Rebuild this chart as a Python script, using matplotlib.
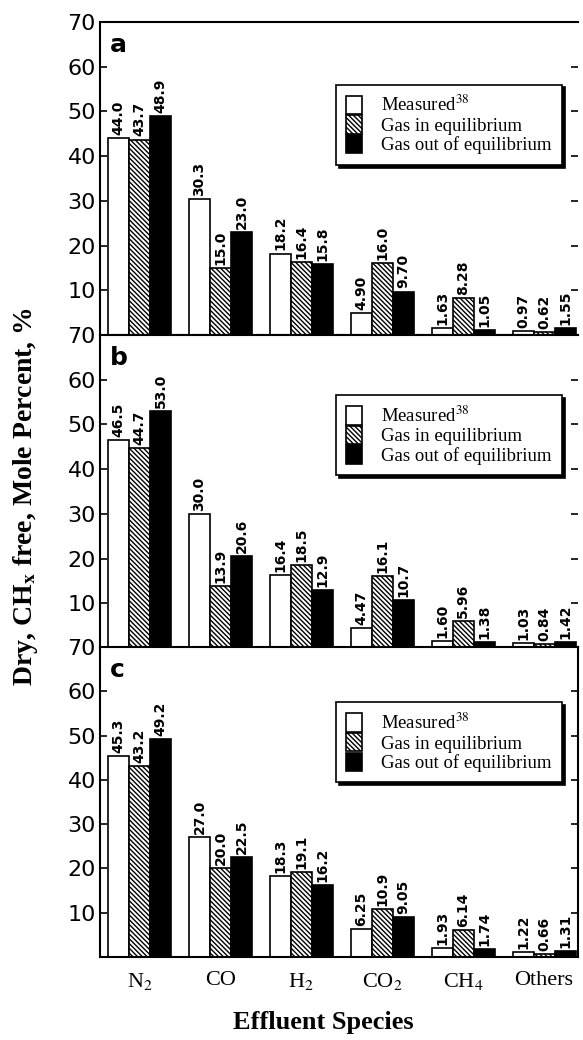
import matplotlib
matplotlib.use("Agg")
import matplotlib.pyplot as plt
import numpy as np

species = ["N$_2$", "CO", "H$_2$", "CO$_2$", "CH$_4$", "Others"]
series_names = ["Measured$^{38}$", "Gas in equilibrium", "Gas out of equilibrium"]
panel_ids = ["a", "b", "c"]

# panel a
a_measured = [44.0, 30.3, 18.2, 4.90, 1.63, 0.97]
a_equil = [43.7, 15.0, 16.4, 16.0, 8.28, 0.62]
a_nonequil = [48.9, 23.0, 15.8, 9.70, 1.05, 1.55]
# panel b
b_measured = [46.5, 30.0, 16.4, 4.47, 1.60, 1.03]
b_equil = [44.7, 13.9, 18.5, 16.1, 5.96, 0.84]
b_nonequil = [53.0, 20.6, 12.9, 10.7, 1.38, 1.42]
# panel c
c_measured = [45.3, 27.0, 18.3, 6.25, 1.93, 1.22]
c_equil = [43.2, 20.0, 19.1, 10.9, 6.14, 0.66]
c_nonequil = [49.2, 22.5, 16.2, 9.05, 1.74, 1.31]

panels = [
    (a_measured, a_equil, a_nonequil),
    (b_measured, b_equil, b_nonequil),
    (c_measured, c_equil, c_nonequil),
]

plt.rcParams['mathtext.fontset'] = 'stix'
plt.rcParams['hatch.linewidth'] = 1.0

SANS = 'DejaVu Sans'
SERIF = 'Liberation Serif'


def fmt(v):
    if v >= 10:
        return "{:.1f}".format(v)
    return "{:.2f}".format(v)


fig = plt.figure(figsize=(5.83, 10.4), dpi=100)

boxes = [(0.6779, 0.301), (0.3769, 0.301), (0.0798, 0.298)]
legend_top = [0.80, 0.808, 0.822]

x = np.arange(len(species))
w = 0.26
styles = [dict(color='white', hatch=None),
          dict(color='white', hatch='\\\\\\\\\\\\\\'),
          dict(color='black', hatch=None)]

for i, (vals, (bot, h)) in enumerate(zip(panels, boxes)):
    ax = fig.add_axes([0.1715, bot, 0.820, h])
    handles = []
    for j, series in enumerate(vals):
        st = styles[j]
        bars = ax.bar(x + (j - 1) * w, series, w, facecolor=st['color'],
                      edgecolor='black', hatch=st['hatch'],
                      linewidth=1.2, label=series_names[j])
        handles.append(bars)
        for xi, v in zip(x + (j - 1) * w, series):
            ax.text(xi, v + 0.7, fmt(v), rotation=90, ha='center', va='bottom',
                    fontsize=10, fontweight='bold', family=SANS)
    ax.set_xlim(-0.49, 5.42)
    ax.set_ylim(0, 70)
    ax.set_yticks(range(10, 71, 10))
    ax.tick_params(axis='y', which='both', direction='in', length=5, width=1.2,
                   labelsize=16, right=True, pad=3)
    for lab in ax.get_yticklabels():
        lab.set_family(SANS)
    ax.set_xticks(x)
    if i == 2:
        ax.set_xticklabels(species, fontsize=16, family=SERIF)
        ax.tick_params(axis='x', length=0, pad=10)
    else:
        ax.set_xticklabels([])
        ax.tick_params(axis='x', length=0)
        ax.spines['right'].set_visible(False)
    for s in ax.spines.values():
        s.set_linewidth(1.5)
    ax.text(0.02, 0.965, panel_ids[i], transform=ax.transAxes, ha='left', va='top',
            fontsize=18, fontweight='bold', family=SANS)
    leg = ax.legend(handles=handles, loc='upper left',
                    bbox_to_anchor=(0.494, legend_top[i]), borderaxespad=0,
                    prop={'family': SERIF, 'size': 13.5},
                    fancybox=False, edgecolor='black', framealpha=1,
                    shadow={'color': 'black', 'alpha': 1},
                    labelspacing=0, handlelength=0.85, handleheight=1.15,
                    handletextpad=1.0, borderpad=0.55)
    leg.get_frame().set_linewidth(1.2)

fig.text(0.043, 1 - 497 / 1040, "Dry, CH$_\\mathbf{x}$ free, Mole Percent, %",
         rotation=90, ha='center', va='center', fontsize=20,
         fontweight='bold', family=SERIF)
fig.text(0.555, 1 - 1022 / 1040, "Effluent Species", ha='center', va='center',
         fontsize=19, fontweight='bold', family=SERIF)

fig.savefig("out.png", dpi=100)
